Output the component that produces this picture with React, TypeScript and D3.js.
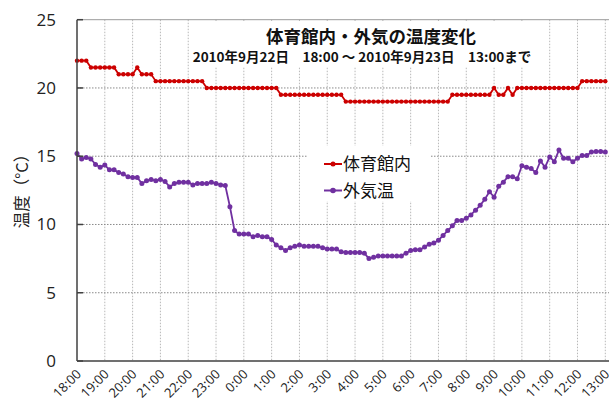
import React from "react";
import * as d3 from "d3";

// 10-minute readings, 18:00 (9/22) .. 13:00 (9/23)
const hourLabels = [
  "18:00", "19:00", "20:00", "21:00", "22:00", "23:00", "0:00", "1:00", "2:00", "3:00",
  "4:00", "5:00", "6:00", "7:00", "8:00", "9:00", "10:00", "11:00", "12:00", "13:00",
];

const indoor = [
  22, 22, 22, 21.5, 21.5, 21.5, 21.5, 21.5, 21.5, 21,
  21, 21, 21, 21.5, 21, 21, 21, 20.5, 20.5, 20.5,
  20.5, 20.5, 20.5, 20.5, 20.5, 20.5, 20.5, 20.5, 20, 20,
  20, 20, 20, 20, 20, 20, 20, 20, 20, 20,
  20, 20, 20, 20, 19.5, 19.5, 19.5, 19.5, 19.5, 19.5,
  19.5, 19.5, 19.5, 19.5, 19.5, 19.5, 19.5, 19.5, 19, 19,
  19, 19, 19, 19, 19, 19, 19, 19, 19, 19,
  19, 19, 19, 19, 19, 19, 19, 19, 19, 19,
  19, 19.5, 19.5, 19.5, 19.5, 19.5, 19.5, 19.5, 19.5, 19.5,
  20, 19.5, 19.5, 20, 19.5, 20, 20, 20, 20, 20,
  20, 20, 20, 20, 20, 20, 20, 20, 20, 20.5,
  20.5, 20.5, 20.5, 20.5, 20.5,
];

const outdoor = [
  15.2, 14.8, 14.9, 14.8, 14.4, 14.2, 14.35, 14.0, 14.0, 13.8,
  13.7, 13.5, 13.45, 13.45, 13.0, 13.2, 13.3, 13.2, 13.3, 13.15,
  12.75, 13.0, 13.1, 13.1, 13.1, 12.9, 13.0, 13.0, 13.0, 13.1,
  13.0, 12.9, 12.85, 11.3, 9.55, 9.3, 9.3, 9.3, 9.1, 9.2,
  9.1, 9.1, 8.9, 8.5, 8.3, 8.1, 8.3, 8.4, 8.5, 8.4,
  8.4, 8.4, 8.4, 8.3, 8.2, 8.2, 8.2, 8.0, 7.95, 7.95,
  7.95, 7.95, 7.9, 7.5, 7.6, 7.7, 7.7, 7.7, 7.7, 7.7,
  7.7, 7.9, 8.1, 8.15, 8.15, 8.35, 8.55, 8.65, 8.85, 9.2,
  9.55, 9.9, 10.3, 10.3, 10.45, 10.7, 11.05, 11.4, 11.85, 12.4,
  12.0, 12.8, 13.1, 13.5, 13.5, 13.35, 14.3, 14.2, 14.1, 13.8,
  14.65, 14.2, 14.95, 14.6, 15.45, 14.85, 14.85, 14.6, 14.85, 15.05,
  15.05, 15.3, 15.35, 15.35, 15.3,
];

const yTicks = [0, 5, 10, 15, 20, 25];

const series = [
  { name: "体育館内", values: indoor, color: "#cc0000", r: 2.2 },
  { name: "外気温", values: outdoor, color: "#7030a0", r: 2.5 },
];

const W = 609;
const H = 403;
const left = 77;
const top = 19.7;
const bottom = 361;

export default function App() {
  const x = d3.scaleLinear().domain([0, 19]).range([left, 605.3]);
  const y = d3.scaleLinear().domain([0, 25]).range([bottom, top]);
  const line = d3
    .line<number>()
    .x((d, i) => x(i / 6))
    .y((d) => y(d));

  const jp = "'Noto Sans CJK JP', sans-serif";
  const num = "'Open Sans', sans-serif";

  return (
    <svg
      width={W}
      height={H}
      style={{ position: "absolute", left: 0, top: 0, background: "#fff" }}
    >
      {/* vertical grid */}
      {hourLabels.slice(1).map((h, i) => (
        <line
          key={h}
          x1={x(i + 1)}
          x2={x(i + 1)}
          y1={top}
          y2={bottom}
          stroke="#b8b8b8"
          strokeDasharray="1.5 1.5"
        />
      ))}
      {/* horizontal grid */}
      {yTicks.slice(1).map((t) => (
        <line
          key={t}
          x1={left}
          x2={W}
          y1={y(t)}
          y2={y(t)}
          stroke={t === 25 ? "#9a9a9a" : "#8a8a8a"}
          strokeDasharray={t === 25 ? undefined : "1.5 1.5"}
        />
      ))}

      {/* title box */}
      <rect x={192} y={21} width={356} height={46} fill="#fff" />
      <text x={371} y={43} textAnchor="middle" fontFamily={jp} fontWeight="bold" fontSize={17.5} fill="#111">
        体育館内・外気の温度変化
      </text>
      <text x={362} y={62} textAnchor="middle" fontFamily={jp} fontWeight="bold" fontSize={13.5} fill="#111">
        2010年9月22日　18:00 ～ 2010年9月23日　13:00まで
      </text>

      {/* legend */}
      <rect x={307} y={146} width={124} height={55} fill="#fff" />
      {series.map((s, i) => (
        <g key={s.name} transform={`translate(0,${164 + i * 26.5})`}>
          <line x1={324} x2={342} y1={0} y2={0} stroke={s.color} strokeWidth={2} />
          <circle cx={333} cy={0} r={s.r + 0.3} fill={s.color} />
          <text x={343} y={6} fontFamily={jp} fontSize={17} fill="#111">
            {s.name}
          </text>
        </g>
      ))}

      {/* series */}
      {series.map((s) => (
        <g key={s.name}>
          <path d={line(s.values) ?? ""} fill="none" stroke={s.color} strokeWidth={1.8} />
          {s.values.map((v, i) => (
            <circle key={i} cx={x(i / 6)} cy={y(v)} r={s.r} fill={s.color} />
          ))}
        </g>
      ))}

      {/* axes */}
      <line x1={left} x2={left} y1={top} y2={bottom} stroke="#404040" strokeWidth={1.5} />
      <line x1={left} x2={W} y1={bottom} y2={bottom} stroke="#404040" strokeWidth={1.5} />
      {yTicks.map((t) => (
        <g key={t}>
          <line x1={left} x2={left + 6} y1={y(t)} y2={y(t)} stroke="#404040" strokeWidth={1.5} />
          <text x={56} y={y(t) + 6} textAnchor="end" fontFamily={num} fontSize={17} fill="#222">
            {t}
          </text>
        </g>
      ))}
      {hourLabels.map((h, i) => (
        <text
          key={h}
          transform={`translate(${x(i) + 5},${bottom + 14}) rotate(-45)`}
          textAnchor="end"
          fontFamily={num}
          fontSize={13}
          fill="#222"
        >
          {h}
        </text>
      ))}
      <text
        transform={`translate(28,187) rotate(-90)`}
        textAnchor="middle"
        fontFamily={jp}
        fontSize={16.5}
        fill="#222"
      >
        温度（°C）
      </text>
    </svg>
  );
}
